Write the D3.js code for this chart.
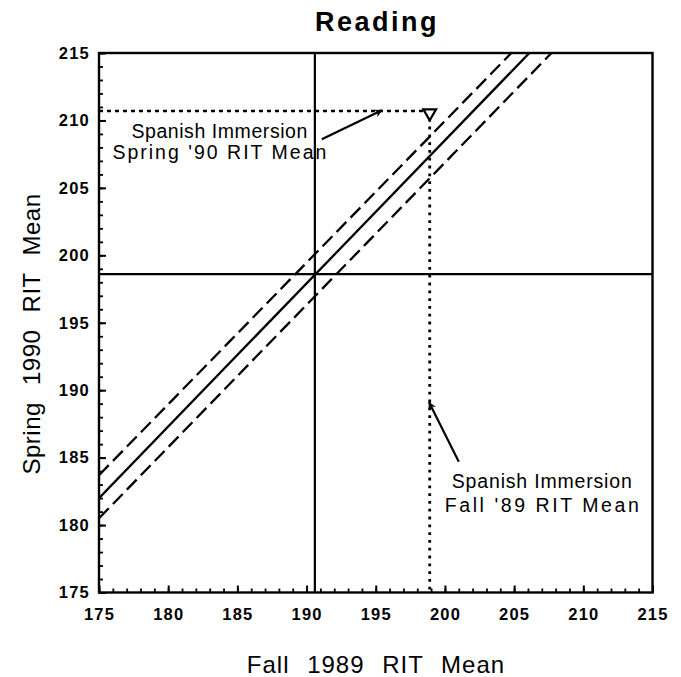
<!DOCTYPE html>
<html>
<head>
<meta charset="utf-8">
<script src="https://cdn.jsdelivr.net/npm/d3@7"></script>
<style>
  html, body { margin: 0; padding: 0; background: #fff; }
  svg { display: block; }
  text { font-family: "Liberation Sans", Arial, Helvetica, sans-serif; fill: #000; }
</style>
</head>
<body>
<svg id="chart" width="681" height="677"></svg>
<script>
// ---------- data ----------
const chartTitle = "Reading";
const xTitle = "Fall 1989 RIT Mean";
const yTitle = "Spring 1990 RIT Mean";
const xDomain = [175, 215];
const yDomain = [175, 215];
const majorTicks = [175, 180, 185, 190, 195, 200, 205, 210, 215];
const tickLabels = ["175", "180", "185", "190", "195", "200", "205", "210", "215"];
const minorTicks = d3.range(175, 216, 1);

// overall means (reference cross-hairs)
const fallGroupMean = 190.6;
const springGroupMean = 198.6;

// expected-growth line and its band (x, y end points)
const regressionX = [175, 206.1];
const regressionY = [182.0, 215];
const upperBandX = [175, 204.8];
const upperBandY = [183.7, 215];
const lowerBandX = [175, 207.7];
const lowerBandY = [180.5, 215];

// Spanish Immersion point
const immersionFall = 198.9;
const immersionSpring = 210.7;

// annotations
const springNoteLines = ["Spanish Immersion", "Spring '90 RIT Mean"];
const springNoteX = 183.7;
const springNoteY = [208.7, 207.15];
const springArrowX = [191.1, 195.45];
const springArrowY = [208.6, 210.75];

const fallNoteLines = ["Spanish Immersion", "Fall '89 RIT Mean"];
const fallNoteX = 207.0;
const fallNoteY = [182.75, 180.95];
const fallArrowX = [201.0, 198.85];
const fallArrowY = [184.7, 189.1];

// ---------- layout ----------
const svg = d3.select("#chart");
const L = 99, R = 652.5, T = 53, B = 592.5;
const x = d3.scaleLinear().domain(xDomain).range([L, R]);
const y = d3.scaleLinear().domain(yDomain).range([B, T]);

svg.append("defs").append("marker")
  .attr("id", "arrow").attr("viewBox", "0 0 10 10")
  .attr("refX", 9).attr("refY", 5)
  .attr("markerWidth", 10).attr("markerHeight", 8)
  .attr("markerUnits", "userSpaceOnUse")
  .attr("orient", "auto")
  .append("path").attr("d", "M0,0 L10,5 L0,10 L3,5 Z").attr("fill", "#000");

// title
svg.append("text").attr("x", 377).attr("y", 31)
  .attr("text-anchor", "middle").attr("font-size", 27).attr("font-weight", "bold")
  .attr("letter-spacing", 2.5).text(chartTitle);

// axes: minor ticks
svg.append("g").attr("transform", `translate(0,${B})`)
  .call(d3.axisBottom(x).tickValues(minorTicks).tickSize(-4).tickFormat(""))
  .call(g => g.select(".domain").remove())
  .call(g => g.selectAll("line").attr("stroke-width", 1.8));
svg.append("g").attr("transform", `translate(${L},0)`)
  .call(d3.axisLeft(y).tickValues(minorTicks).tickSize(-4).tickFormat(""))
  .call(g => g.select(".domain").remove())
  .call(g => g.selectAll("line").attr("stroke-width", 1.8));

// axes: major ticks + labels
const xAxis = svg.append("g").attr("transform", `translate(0,${B})`)
  .call(d3.axisBottom(x).tickValues(majorTicks).tickSize(-7).tickPadding(16)
    .tickFormat((d, i) => tickLabels[i]));
const yAxis = svg.append("g").attr("transform", `translate(${L},0)`)
  .call(d3.axisLeft(y).tickValues(majorTicks).tickSize(-7).tickPadding(9)
    .tickFormat((d, i) => tickLabels[i]));
[xAxis, yAxis].forEach(g => {
  g.select(".domain").remove();
  g.selectAll("line").attr("stroke-width", 2);
  g.selectAll("text").attr("font-size", 16.5).attr("font-weight", "bold")
    .attr("font-family", "'Liberation Sans', Arial, sans-serif").attr("letter-spacing", 1.2);
});

// axis titles
svg.append("text").attr("x", 376).attr("y", 673)
  .attr("text-anchor", "middle").attr("font-size", 24)
  .attr("letter-spacing", 1).attr("word-spacing", 10).text(xTitle);
svg.append("text").attr("transform", `translate(40,334) rotate(-90)`)
  .attr("text-anchor", "middle").attr("font-size", 24)
  .attr("letter-spacing", 0.5).attr("word-spacing", 10).text(yTitle);

// plot clip
svg.append("clipPath").attr("id", "plotclip").append("rect")
  .attr("x", L).attr("y", T).attr("width", R - L).attr("height", B - T);
const plot = svg.append("g").attr("clip-path", "url(#plotclip)");

// cross hairs
plot.append("line").attr("x1", x(fallGroupMean)).attr("x2", x(fallGroupMean))
  .attr("y1", y(yDomain[0])).attr("y2", y(yDomain[1]))
  .attr("stroke", "#000").attr("stroke-width", 2.2);
plot.append("line").attr("x1", x(xDomain[0])).attr("x2", x(xDomain[1]))
  .attr("y1", y(springGroupMean)).attr("y2", y(springGroupMean))
  .attr("stroke", "#000").attr("stroke-width", 2.2);

// regression line and band
const line = d3.line().x(d => x(d[0])).y(d => y(d[1]));
const lineSets = [
  { xs: upperBandX, ys: upperBandY, dash: "14,6" },
  { xs: regressionX, ys: regressionY, dash: null },
  { xs: lowerBandX, ys: lowerBandY, dash: "14,6" }
];
lineSets.forEach(s => {
  plot.append("path").datum(d3.zip(s.xs, s.ys)).attr("d", line)
    .attr("fill", "none").attr("stroke", "#000").attr("stroke-width", 2.3)
    .attr("stroke-dasharray", s.dash);
});

// dotted guides to the immersion point
plot.append("line").attr("x1", x(xDomain[0])).attr("x2", x(immersionFall))
  .attr("y1", y(immersionSpring)).attr("y2", y(immersionSpring))
  .attr("stroke", "#000").attr("stroke-width", 2.4).attr("stroke-dasharray", "4,4");
plot.append("line").attr("x1", x(immersionFall)).attr("x2", x(immersionFall))
  .attr("y1", y(immersionSpring)).attr("y2", y(yDomain[0]))
  .attr("stroke", "#000").attr("stroke-width", 2.8).attr("stroke-dasharray", "2.8,5");

// marker (down triangle)
plot.append("path")
  .attr("transform", `translate(${x(immersionFall)},${y(immersionSpring) + 2}) rotate(180)`)
  .attr("d", d3.symbol(d3.symbolTriangle, 70)())
  .attr("fill", "#fff").attr("stroke", "#000").attr("stroke-width", 2.2);

// border
svg.append("rect").attr("x", L).attr("y", T).attr("width", R - L).attr("height", B - T)
  .attr("fill", "none").attr("stroke", "#000").attr("stroke-width", 2.4);

// annotations
const springWidths = [176, 214];
springNoteLines.forEach((t, i) => {
  svg.append("text").attr("x", x(springNoteX)).attr("y", y(springNoteY[i]))
    .attr("text-anchor", "middle").attr("font-size", 19.5)
    .attr("textLength", springWidths[i]).attr("lengthAdjust", "spacing").text(t);
});
svg.append("line")
  .attr("x1", x(springArrowX[0])).attr("y1", y(springArrowY[0]))
  .attr("x2", x(springArrowX[1])).attr("y2", y(springArrowY[1]))
  .attr("stroke", "#000").attr("stroke-width", 2.2).attr("marker-end", "url(#arrow)");

const fallWidths = [180, 194];
fallNoteLines.forEach((t, i) => {
  svg.append("text").attr("x", x(fallNoteX)).attr("y", y(fallNoteY[i]))
    .attr("text-anchor", "middle").attr("font-size", 19.5)
    .attr("textLength", fallWidths[i]).attr("lengthAdjust", "spacing").text(t);
});
svg.append("line")
  .attr("x1", x(fallArrowX[0])).attr("y1", y(fallArrowY[0]))
  .attr("x2", x(fallArrowX[1])).attr("y2", y(fallArrowY[1]))
  .attr("stroke", "#000").attr("stroke-width", 2.2).attr("marker-end", "url(#arrow)");
</script>
</body>
</html>
